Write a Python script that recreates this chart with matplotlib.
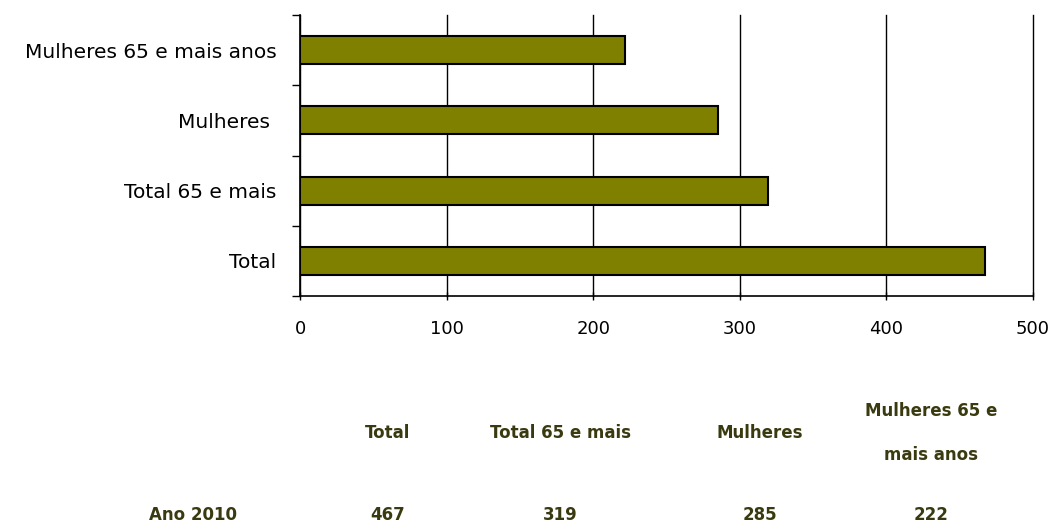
import matplotlib.pyplot as plt

categories = ['Total', 'Total 65 e mais', 'Mulheres ', 'Mulheres 65 e mais anos']
values = [467, 319, 285, 222]
table_headers = ['Total', 'Total 65 e mais', 'Mulheres', 'Mulheres 65 e\nmais anos']
row_label = 'Ano 2010'

plt.rcParams['font.family'] = ['DejaVu Sans']

fig = plt.figure(figsize=(10.54, 5.26), dpi=100)
ax = fig.add_axes([300 / 1054, 1 - 296 / 526, 733 / 1054, 281 / 526])

ypos = list(range(len(categories)))
ax.barh(ypos, values, height=0.4, color='#808000', edgecolor='black', linewidth=1.5, zorder=3)

ax.set_xlim(0, 500)
ax.set_ylim(-0.5, len(categories) - 0.5)
ax.set_xticks([0, 100, 200, 300, 400, 500])
ax.tick_params(axis='x', direction='inout', length=6, width=1, pad=14, labelsize=13)
ax.grid(axis='x', color='black', linewidth=1, zorder=0)
for gl in ax.get_xgridlines():
    gl.set_clip_on(False)

ax.set_yticks(ypos)
ax.set_yticklabels(categories, fontsize=14.5)
ax.tick_params(axis='y', length=0, pad=17)
ax.set_yticks([i - 0.5 for i in range(len(categories) + 1)], minor=True)
ax.tick_params(axis='y', which='minor', length=6, width=1, direction='out')

for s in ['top', 'right']:
    ax.spines[s].set_visible(False)
for s in ['left', 'bottom']:
    ax.spines[s].set_linewidth(1.2)

# data table under the chart
col_x = [388, 560, 760, 931]
txt_col = '#3a3a10'
for x, h, v in zip(col_x, table_headers, values):
    fig.text(x / 1054, 1 - 433 / 526, h, ha='center', va='center', fontsize=12,
             fontweight='bold', color=txt_col, linespacing=2.9)
    fig.text(x / 1054, 1 - 515 / 526, str(v), ha='center', va='center', fontsize=12,
             fontweight='bold', color=txt_col)
fig.text(193 / 1054, 1 - 515 / 526, row_label, ha='center', va='center', fontsize=12,
         fontweight='bold', color=txt_col)

fig.savefig('out.png', dpi=100)
